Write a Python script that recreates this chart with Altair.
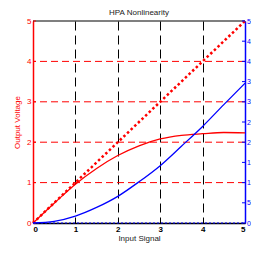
import altair as alt
import pandas as pd

# ---- data ----
x_vals = [0, 0.5, 1, 1.5, 2, 2.5, 3, 3.5, 4, 4.5, 5]
ideal_out = [0, 0.5, 1, 1.5, 2, 2.5, 3, 3.5, 4, 4.5, 5]
am_out = [0, 0.49, 0.96, 1.35, 1.67, 1.91, 2.08, 2.17, 2.21, 2.24, 2.23]
pm_out = [0, 0.4, 1.7, 3.85, 6.6, 10.2, 14.2, 19.0, 23.9, 29.3, 34.6]
zero_phase = [0, 0, 0, 0, 0, 0, 0, 0, 0, 0, 0]

x_ticks = [0, 1, 2, 3, 4, 5]
left_ticks = [0, 1, 2, 3, 4, 5]
right_ticks = [0, 5, 10, 15, 20, 25, 30, 35, 40, 45, 50]
grid_y = [1, 2, 3, 4]
top_edge = [5]

df = pd.DataFrame({"x": x_vals, "ideal": ideal_out, "am": am_out,
                   "pm": pm_out, "zero": zero_phase})
df_lt = pd.DataFrame({"yl": left_ticks})
df_rt = pd.DataFrame({"yr": right_ticks})
df_gy = pd.DataFrame({"yl": grid_y})
df_top = pd.DataFrame({"yl": top_edge})

W, H = 212, 202
RED = "#ff0000"
BLUE = "#0000ff"
FONT = "Liberation Sans"

xs = alt.Scale(domain=[0, 5], nice=False, zero=False)
yls = alt.Scale(domain=[0, 5], nice=False)
yrs = alt.Scale(domain=[0, 50], nice=False)

x_axis = alt.Axis(values=x_ticks, title="Input Signal",
                  grid=True, gridColor="black", gridDash=[9, 5], gridWidth=1, gridOpacity=1,
                  tickSize=0, labelPadding=2, titlePadding=1,
                  labelFontWeight="bold", labelColor="black", labelFontSize=8,
                  titleFontSize=8, titleFontWeight="normal", titleColor="#222",
                  domainColor="black", domainWidth=1.5, labelFont=FONT, titleFont=FONT)

yl_axis = alt.Axis(values=left_ticks, title="Output Voltage", grid=False,
                   tickSize=0, labelPadding=2, titlePadding=5,
                   labelColor=RED, labelFontSize=8, titleColor=RED, titleFontSize=8,
                   titleFontWeight="normal", domainColor=RED, domainWidth=1.5,
                   labelFont=FONT, titleFont=FONT)

yr_axis = alt.Axis(values=right_ticks, title=None, grid=False, orient="right",
                   tickSize=0, labelPadding=1.5,
                   labelColor=BLUE, labelFontSize=7, domainColor=BLUE, domainWidth=1.5,
                   labelFont=FONT)


def X(field="x"):
    return alt.X(f"{field}:Q", scale=xs, axis=x_axis)


def YL(field):
    return alt.Y(f"{field}:Q", scale=yls, axis=yl_axis)


def YR(field):
    return alt.Y(f"{field}:Q", scale=yrs, axis=yr_axis)


base = alt.Chart(df)

hgrid = alt.Chart(df_gy).mark_rule(color=RED, strokeWidth=1, strokeDash=[7, 4]).encode(
    y=YL("yl"))
top_line = alt.Chart(df_top).mark_rule(color="black", strokeWidth=1.2).encode(y=YL("yl"))

ideal_line = base.mark_line(color=RED, strokeWidth=2.5, strokeDash=[2.5, 2.5]).encode(
    x=X(), y=YL("ideal"))
am_line = base.mark_line(color=RED, strokeWidth=1.3, interpolate="monotone").encode(
    x=X(), y=YL("am"))
left_tick_marks = alt.Chart(df_lt).mark_rule(color=RED, strokeWidth=1).encode(
    y=YL("yl"), x=alt.value(0), x2=alt.value(3))

left = alt.layer(hgrid, top_line, left_tick_marks, ideal_line, am_line)

pm_line = base.mark_line(color=BLUE, strokeWidth=1.3, interpolate="monotone").encode(
    x=X(), y=YR("pm"))
zero_line = base.mark_line(color=BLUE, strokeWidth=1.2, strokeDash=[2, 2]).encode(
    x=X(), y=YR("zero"))
right_tick_marks = alt.Chart(df_rt).mark_rule(color=BLUE, strokeWidth=1).encode(
    y=YR("yr"), x=alt.value(W), x2=alt.value(W - 3))

right = alt.layer(pm_line, zero_line, right_tick_marks)

chart = alt.layer(left, right).resolve_scale(y="independent").properties(
    width=W, height=H,
    title=alt.TitleParams("HPA Nonlinearity", fontSize=8, fontWeight="normal", font=FONT,
                          color="#222", frame="group", anchor="middle", offset=-1),
    autosize=alt.AutoSizeParams(type="none"),
    padding={"left": 25, "top": 13, "right": 6, "bottom": 22},
).configure_view(stroke=None)

chart.save("out.html", embed_options={"renderer": "svg", "actions": False})
